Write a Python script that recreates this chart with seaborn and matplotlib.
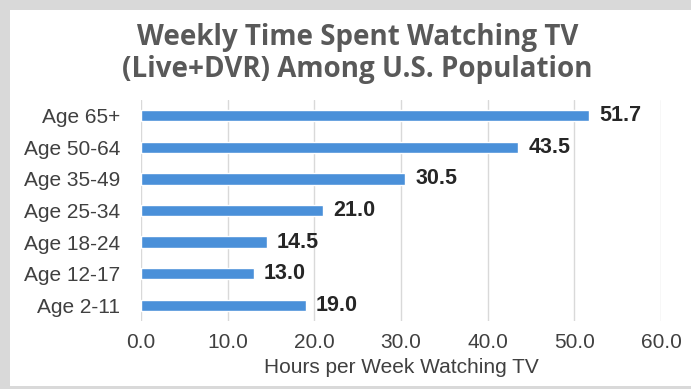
import matplotlib
matplotlib.use("Agg")
import matplotlib.pyplot as plt
import seaborn as sns
import pandas as pd
from matplotlib.patches import Rectangle

categories = ["Age 65+", "Age 50-64", "Age 35-49", "Age 25-34", "Age 18-24", "Age 12-17", "Age 2-11"]
hours = [51.7, 43.5, 30.5, 21.0, 14.5, 13.0, 19.0]
x_ticks = [0, 10, 20, 30, 40, 50, 60]

df = pd.DataFrame({"group": categories, "hours": hours})

sns.set_theme(style="white")
plt.rcParams["font.family"] = ["Liberation Sans", "DejaVu Sans"]

fig = plt.figure(figsize=(6.91, 3.89), dpi=100)
fig.patch.set_facecolor("#d9d9d9")
# white chart panel inside the grey frame
fig.patches.append(Rectangle((10 / 691, 1 - 386 / 389), 1 - 10 / 691, (386 - 10) / 389,
                             transform=fig.transFigure, facecolor="white", edgecolor="none", zorder=-10))

ax = fig.add_axes([141 / 691, 1 - 321 / 389, (661 - 141) / 691, 221 / 389])
ax.set_facecolor("none")

sns.barplot(data=df, y="group", x="hours", orient="h", color="#4a90d9",
            width=0.36, ax=ax, zorder=3, saturation=1)

ax.set_xlim(0, 60)
ax.set_ylim(6.5, -0.5)
ax.set_xticks(x_ticks)
ax.set_xticklabels([f"{t:.1f}" for t in x_ticks], fontsize=15, color="#404040")
ax.tick_params(axis="x", length=0, pad=9)
ax.tick_params(axis="y", length=0, pad=15, labelsize=15, labelcolor="#404040")
for lbl in ax.get_yticklabels():
    lbl.set_color("#404040")
ax.grid(axis="x", color="#d9d9d9", linewidth=1, zorder=0)
ax.grid(axis="y", visible=False)
for s in ax.spines.values():
    s.set_visible(False)

ax.set_ylabel("")
ax.set_xlabel("Hours per Week Watching TV", fontsize=15, color="#404040", labelpad=4)

for i, v in enumerate(hours):
    ax.text(v + 1.2, i, f"{v:.1f}", va="center", ha="left", fontsize=15.5,
            fontweight="bold", color="#262626", zorder=4)

fig.text(0.517, 1 - 38 / 389, "Weekly Time Spent Watching TV", ha="center", va="center",
         fontsize=20, fontweight="bold", color="#595959", family=["Open Sans", "DejaVu Sans"])
fig.text(0.517, 1 - 69 / 389, "(Live+DVR) Among U.S. Population", ha="center", va="center",
         fontsize=20, fontweight="bold", color="#595959", family=["Open Sans", "DejaVu Sans"])

fig.savefig("out.png", dpi=100, facecolor=fig.get_facecolor())
